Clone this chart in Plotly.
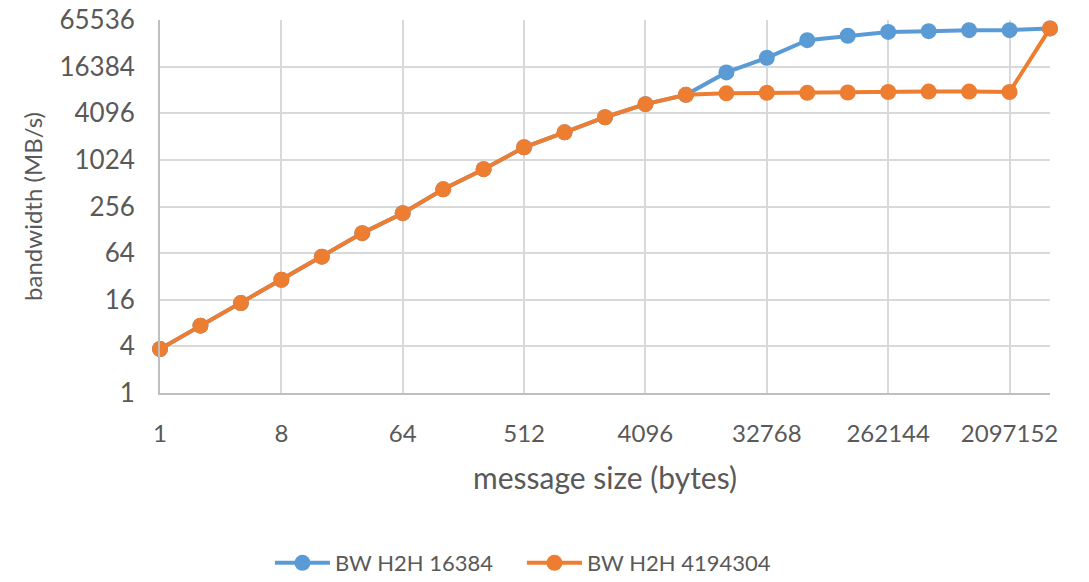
import plotly.graph_objects as go

sizes = [str(2**i) for i in range(23)]
bw_16384 = [3.7, 7.4, 14.5, 29, 57.6, 116, 210, 427, 776, 1490, 2320, 3640, 5370, 7080,
            13800, 21300, 36000, 41000, 46000, 47000, 48500, 48500, 51000]
bw_4194304 = [3.7, 7.4, 14.5, 29, 57.6, 116, 210, 427, 776, 1490, 2320, 3640, 5370, 7080,
              7400, 7520, 7520, 7600, 7700, 7800, 7800, 7700, 51000]
x_ticks = ["1", "8", "64", "512", "4096", "32768", "262144", "2097152"]
y_ticks = [1, 4, 16, 64, 256, 1024, 4096, 16384, 65536]

FONT = "Lato, 'Open Sans', sans-serif"
TXT = "#595959"

fig = go.Figure()
fig.add_trace(go.Scatter(x=sizes, y=bw_16384, name="BW H2H 16384", mode="lines+markers",
                         line=dict(color="#5b9bd5", width=4), marker=dict(size=16, color="#5b9bd5"),
                         cliponaxis=False))
fig.add_trace(go.Scatter(x=sizes, y=bw_4194304, name="BW H2H 4194304", mode="lines+markers",
                         line=dict(color="#ed7d31", width=4), marker=dict(size=16, color="#ed7d31"),
                         cliponaxis=False))

fig.update_layout(
    width=1089, height=582,
    margin=dict(l=160, r=39, t=20, b=189),
    paper_bgcolor="white", plot_bgcolor="white",
    font=dict(family=FONT, size=22, color=TXT),
    showlegend=True,
    legend=dict(orientation="h", xref="container", yref="container",
                x=0.4793, xanchor="center", y=0.0326, yanchor="middle",
                font=dict(size=22, color=TXT), itemwidth=55,
                entrywidthmode="pixels", entrywidth=182),
    xaxis=dict(type="category", range=[0, 22], tickmode="array", tickvals=x_ticks,
               ticktext=x_ticks, showgrid=True, gridcolor="#d9d9d9", gridwidth=2,
               showline=True, linecolor="#bfbfbf", linewidth=2, ticks="", automargin=False,
               tickfont=dict(size=24, color=TXT), ticklabelstandoff=18,
               ticklabeloverflow="allow",
               title=dict(text="message size (bytes)", font=dict(size=30, color=TXT), standoff=22),
               zeroline=False),
    yaxis=dict(type="log", range=[0, 4.8166], tickmode="array", tickvals=y_ticks,
               ticktext=[str(v) for v in y_ticks], showgrid=True, gridcolor="#d9d9d9",
               gridwidth=2, showline=True, linecolor="#bfbfbf", linewidth=2, ticks="", automargin=False,
               tickfont=dict(size=26, color=TXT), ticklabelstandoff=18,
               ticklabeloverflow="allow",
               title=dict(text="bandwidth (MB/s)", font=dict(size=24, color=TXT), standoff=10),
               zeroline=False),
)

fig.write_html("out.html", config={"displayModeBar": False},
               post_script="document.body.style.margin='0';")
